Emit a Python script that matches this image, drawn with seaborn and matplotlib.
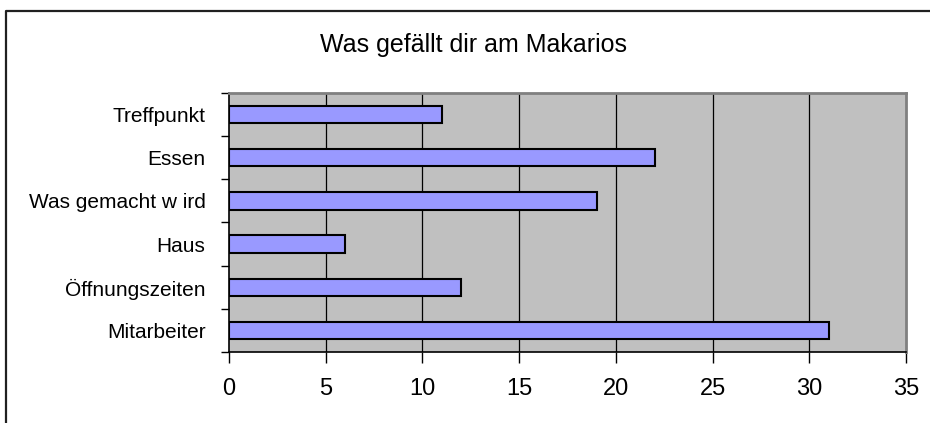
import matplotlib
matplotlib.use("Agg")
import matplotlib.pyplot as plt
from matplotlib.lines import Line2D
from matplotlib.ticker import FixedLocator
import seaborn as sns
import pandas as pd

# Umfrage: was gefaellt dir am Makarios
antworten = ['Treffpunkt', 'Essen', 'Was gemacht w ird', 'Haus',
             'Öffnungszeiten', 'Mitarbeiter']
anzahl = [11, 22, 19, 6, 12, 31]
xticks = [0, 5, 10, 15, 20, 25, 30, 35]

df = pd.DataFrame({'Antwort': antworten, 'Anzahl': anzahl})

sns.set_style('white')
plt.rcParams['font.family'] = ['Liberation Sans', 'DejaVu Sans']
plt.rcParams['text.color'] = 'black'
plt.rcParams['xtick.color'] = 'black'
plt.rcParams['ytick.color'] = 'black'

fig = plt.figure(figsize=(9.3, 4.23), dpi=100)
ax = fig.add_axes([229/930, 1 - 352/423, (906 - 229)/930, (352 - 93)/423])

sns.barplot(data=df, x='Anzahl', y='Antwort', orient='h', ax=ax,
            color='#9999FF', saturation=1, width=0.4,
            edgecolor='black', linewidth=1.5, zorder=3)

ax.set_facecolor('#C0C0C0')
ax.set_xlim(0, 35)
ax.set_ylim(5.5, -0.5)
ax.set_xticks(xticks)
ax.set_xticklabels([str(t) for t in xticks], fontsize=17)
ax.set_xlabel('')
ax.set_ylabel('')

# vertical grid lines
for t in xticks[1:-1]:
    ax.axvline(t, color='black', lw=0.9, zorder=1)

# y ticks sit between categories
ax.yaxis.set_minor_locator(FixedLocator([i - 0.5 for i in range(len(antworten) + 1)]))
ax.tick_params(axis='y', which='major', length=0, pad=17, labelsize=15)
ax.tick_params(axis='y', which='minor', length=6, width=1, color='black', direction='out')
ax.tick_params(axis='x', which='major', length=8, width=1, color='black', direction='out', pad=11)
ax.tick_params(left=True, bottom=True)
ax.tick_params(axis='y', which='minor', left=True)

for s in ['left', 'bottom']:
    ax.spines[s].set_color('black')
    ax.spines[s].set_linewidth(1.2)
for s in ['top', 'right']:
    ax.spines[s].set_color('#808080')
    ax.spines[s].set_linewidth(2)

fig.text(473/930, 1 - 45/423, 'Was gefällt dir am Makarios',
         ha='center', va='center', fontsize=18, color='black')

# outer chart frame (only left and top visible)
fig.add_artist(Line2D([6/930, 6/930, 1.0], [0.0, 1 - 11/423, 1 - 11/423],
                      transform=fig.transFigure, color='#202020', lw=1.6))

fig.savefig('out.png', dpi=100)
